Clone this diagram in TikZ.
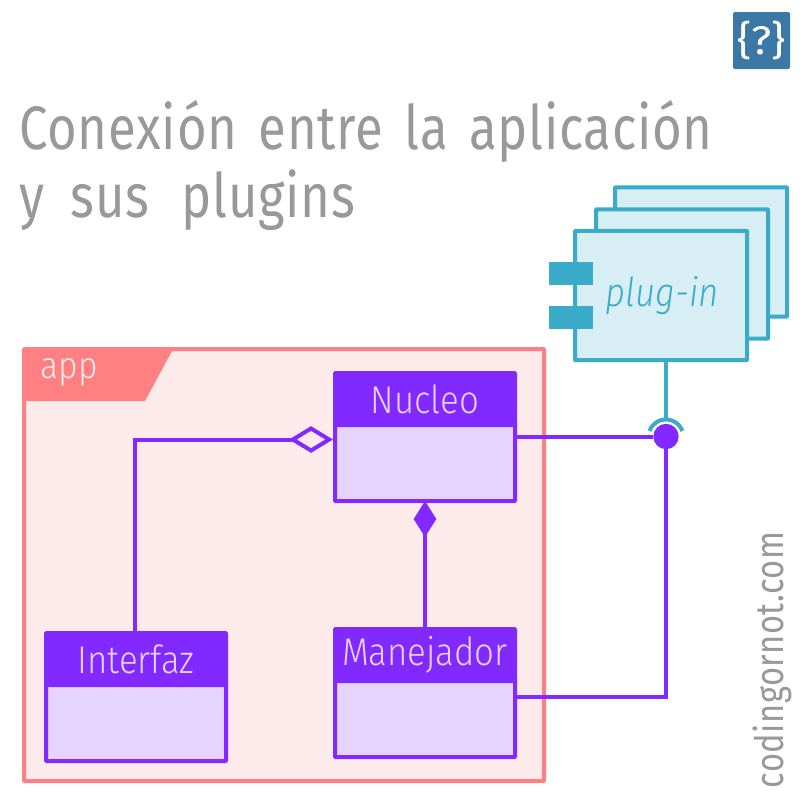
\documentclass[tikz,border=0pt]{standalone}
\usepackage{fontspec}
\setmainfont{Fira Sans}[UprightFont=* Light,ItalicFont=* Light Italic]
\newfontfamily\titlefont[FakeStretch=.83,LetterSpace=1.2,WordSpace=1.5]{Fira Sans}
\newfontfamily\labelfont[FakeStretch=.9,UprightFont=* Light,ItalicFont=* Light Italic]{Fira Sans}
\newfontfamily\plugfont[FakeStretch=.87,UprightFont=* Light Italic]{Fira Sans}
\newfontfamily\logofont[FakeStretch=1.1]{Fira Sans}
\usetikzlibrary{positioning}
\usetikzlibrary{arrows.meta}
\definecolor{classcolor}{HTML}{8229FF}
\definecolor{classfill}{HTML}{E5D4FF}
\definecolor{framecolor}{HTML}{FE8082}
\definecolor{framefill}{HTML}{FCEBEA}
\definecolor{plugcolor}{HTML}{3AACC9}
\definecolor{plugfill}{HTML}{D7EEF4}
\definecolor{titlecolor}{HTML}{999999}
\definecolor{logocolor}{HTML}{3B78A6}
\tikzset{
	classhead/.style={draw=classcolor,fill=classcolor,line width=3pt,rounded corners=.5pt,outer sep=0pt,text=classfill,minimum width=135pt,minimum height=39pt,font=\labelfont\fontsize{29}{29}\selectfont},
	classbody/.style={draw=classcolor,fill=classfill,line width=3pt,rounded corners=.5pt,outer sep=0pt,minimum width=135pt,minimum height=57pt},
	plugbox/.style={draw=plugcolor,fill=plugfill,line width=3pt,rounded corners=.5pt,outer sep=0pt,minimum width=129pt,minimum height=97pt},
	plugtab/.style={fill=plugcolor,minimum width=33pt,minimum height=17.5pt,inner sep=0pt},
	classline/.style={draw=classcolor,line width=3pt},
	plugline/.style={draw=plugcolor,line width=3pt},
	titleline/.style={text=titlecolor,anchor=base west,inner sep=0pt,font=\titlefont\fontsize{46}{46}\selectfont}
}
\begin{document}
\begin{tikzpicture}[x=0.75pt,y=-0.75pt,node distance=0pt]
	\useasboundingbox (0,0) rectangle (800,800);
	\fill[white] (0,0) rectangle (800,800);

	\node[fill=logocolor,rounded corners=1.5pt,minimum size=42.75pt,inner sep=0pt,text=white,font=\logofont\fontsize{30}{30}\selectfont] (logo) at (761.5,40.5) {\{?\}};
	\node[titleline] (title1) at (19,149.5) {Conexión entre la aplicación};
	\node[titleline] (title2) at (19,217) {y\hspace{4pt} sus\hspace{8pt} plugins};
	\node[text=titlecolor,rotate=90,font=\titlefont\fontsize{29.5}{29.5}\selectfont] (site) at (772,660) {codingornot.com};

	\node[plugbox] (plugc) at (701,252) {};
	\node[plugbox] (plugb) at (682,274) {};
	\node[plugbox,text=plugcolor,font=\plugfont\fontsize{30}{30}\selectfont] (pluga) at (661,295.5) {\hspace*{2pt}plug-in};
	\node[plugtab] (tab1) at (571,273.5) {};
	\node[plugtab] (tab2) at (571,317.5) {};

	\node[draw=framecolor,fill=framefill,line width=3pt,rounded corners=.5pt,outer sep=0pt,minimum width=390pt,minimum height=324pt] (app) at (284,565) {};
	\fill[framecolor] (app.north west) -- (173,349) -- (145,401) -- (24,401) -- cycle;
	\node[text=framefill,font=\labelfont\fontsize{28}{28}\selectfont] (applabel) at (69,372.5) {app};

	\node[classhead] (nucleo) at (425,399) {Nucleo};
	\node[classbody,below=of nucleo] (nucleobody) {};
	\node[classhead] (manejador) at (425,655) {Manejador};
	\node[classbody,below=of manejador] (manejadorbody) {};
	\node[classhead] (interfaz) at (136,659) {Interfaz};
	\node[classbody,below=of interfaz] (interfazbody) {};

	\node[circle,fill=classcolor,minimum size=19pt,inner sep=0pt] (ball) at (666,436.5) {};
	\coordinate (nucleoport) at (515,436.5);
	\coordinate (manejadorport) at (515,697);
	\coordinate (interfazport) at (135,633);
	\coordinate (aggregate) at (333,439.5);

	\draw[plugline] (pluga.south -| ball) -- (666,419);
	\draw[plugline] (649.5,431) arc (200:340:17.5);
	\draw[classline] (nucleoport) -- (ball);
	\draw[classline] (manejadorport) -| (ball);
	\draw[classline,-{Diamond[open,fill=framefill,length=33pt,width=20pt,line width=3pt]}] (interfazport) |- (aggregate);
	\draw[classline,-{Diamond[length=27pt,width=17pt]}] (manejador.north) -- (nucleobody.south);
\end{tikzpicture}
\end{document}
